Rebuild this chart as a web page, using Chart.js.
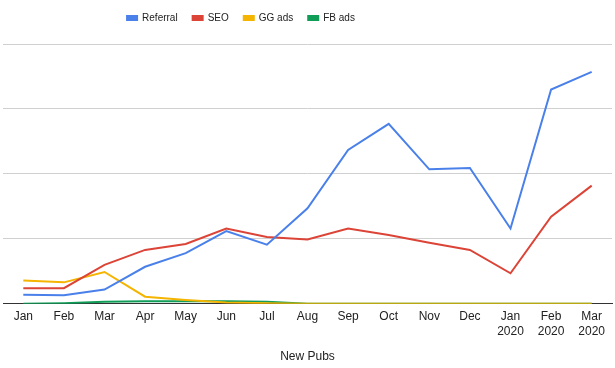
<!DOCTYPE html>
<html>
<head>
<meta charset="utf-8">
<script src="https://cdn.jsdelivr.net/npm/chart.js@4"></script>
<style>
	html, body { margin: 0; padding: 0; background: #fff; }
	#wrap { width: 615px; height: 368px; }
</style>
</head>
<body>
<div id="wrap"><canvas id="pubs_chart"></canvas></div>
<script>
// months shown on the x axis
var months = ['Jan', 'Feb', 'Mar', 'Apr', 'May', 'Jun', 'Jul', 'Aug', 'Sep', 'Oct', 'Nov', 'Dec',
	['Jan', '2020'], ['Feb', '2020'], ['Mar', '2020']];

// new pubs per channel
var referral = [14, 13, 22, 57, 78, 112, 91, 147, 237, 277, 207, 209, 116, 330, 357];
var seo      = [24, 24, 60, 83, 92, 116, 103, 99, 116, 106, 94, 83, 47, 134, 182];
var gg_ads   = [36, 33, 49, 11, 6, 2, 1, 0, 0, 0, 0, 0, 0, 0, 0];
var fb_ads   = [0, 1, 3, 4, 4, 4, 3, 0, 0, 0, 0, 0, 0, 0, 0];

var y_ticks = [0, 100, 200, 300, 400];

function makeSeries(label, data, color){
	/*
	Builds one line dataset.
	:param: label, data, color.
	:return: dataset object.
	*/
	return {
		label: label,
		data: data,
		borderColor: color,
		backgroundColor: color,
		borderWidth: 2,
		pointRadius: 0,
		pointHoverRadius: 0,
		tension: 0,
		fill: false
	};
}

// extra gap under the legend, and pull the legend up and to the left like the original
const legendTweak = {
	id: 'legendTweak',
	beforeInit: function(chart){
		const fit = chart.legend.fit;
		chart.legend.fit = function(){
			fit.bind(chart.legend)();
			this.height += 9;
		};
	},
	afterLayout: function(chart){
		chart.legend.right -= 133;
		chart.legend.top -= 2;
	}
};

const ctx = document.getElementById('pubs_chart').getContext('2d');
const pubs_chart = new Chart(ctx, {
	type: 'line',
	data: {
		labels: months,
		datasets: [
			makeSeries('Referral', referral, '#4a80ea'),
			makeSeries('SEO', seo, '#db4437'),
			makeSeries('GG ads', gg_ads, '#f4b400'),
			makeSeries('FB ads', fb_ads, '#0f9d58')
		]
	},
	plugins: [legendTweak],
	options: {
		responsive: true,
		maintainAspectRatio: false,
		animation: false,
		layout: {
			padding: { left: 3, right: 3, top: 0, bottom: 4 }
		},
		scales: {
			y: {
				min: y_ticks[0],
				max: y_ticks[y_ticks.length - 1],
				afterBuildTicks: function(axis){
					axis.ticks = y_ticks.map(function(v){ return { value: v }; });
				},
				ticks: { display: false },
				grid: { color: '#d0d0d0', lineWidth: 1, drawTicks: false },
				border: { display: false }
			},
			x: {
				offset: true,
				grid: { display: false, drawTicks: false },
				border: { display: true, color: '#333', width: 1 },
				ticks: {
					color: '#222',
					font: { family: 'Liberation Sans, Arial', size: 12 },
					maxRotation: 0,
					autoSkip: false,
					padding: 6
				},
				title: {
					display: true,
					text: 'New Pubs',
					color: '#222',
					font: { family: 'Liberation Sans, Arial', size: 12 },
					padding: { top: 5, bottom: 0 }
				}
			}
		},
		plugins: {
			legend: {
				display: true,
				position: 'top',
				labels: {
					boxWidth: 10,
					boxHeight: 4,
					padding: 15,
					color: '#222',
					font: { family: 'Liberation Sans, Arial', size: 10 }
				}
			},
			tooltip: { enabled: false }
		}
	}
});
</script>
</body>
</html>
